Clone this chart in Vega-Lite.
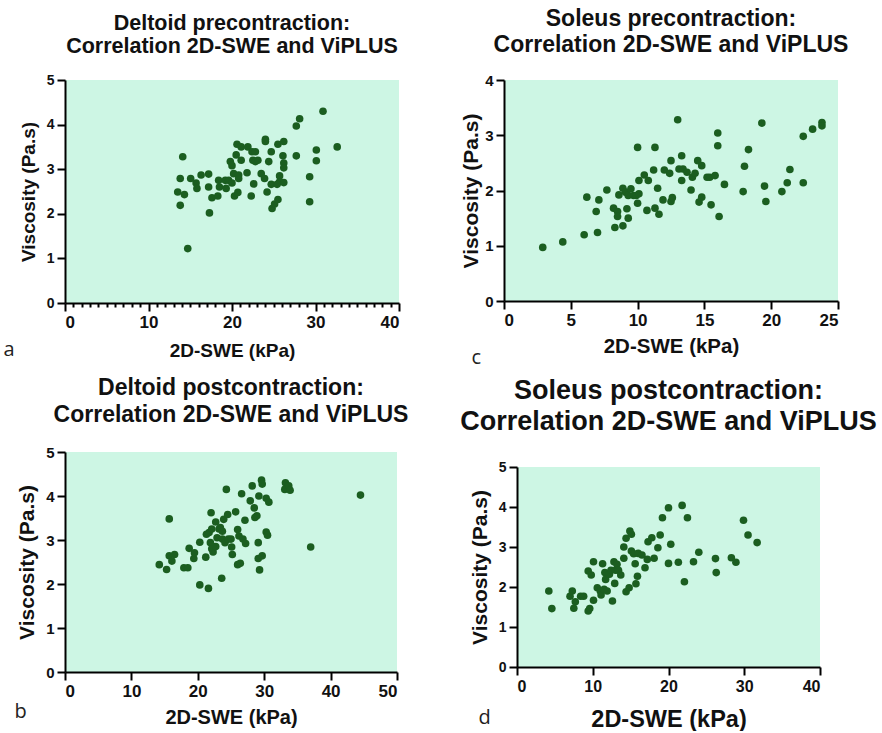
{
  "$schema": "https://vega.github.io/schema/vega-lite/v6.json",
  "padding": {"left": 3, "top": 8, "right": 0, "bottom": 0},
  "background": "white",
  "config": {
    "view": {"fill": "#CDF6E4", "stroke": null},
    "title": {"font": "Liberation Sans", "fontSize": 23, "fontWeight": "bold", "lineHeight": 26, "offset": 16, "anchor": "middle", "color": "#111"},
    "axis": {"grid": false, "labelFont": "Liberation Sans", "labelFontWeight": "bold", "labelColor": "#111", "titleFont": "Liberation Sans", "titleFontWeight": "bold", "titleColor": "#111", "labelPadding": 3, "domain": true, "domainColor": "black", "domainWidth": 2, "ticks": true, "tickColor": "black", "tickWidth": 2, "tickSize": 8, "labelOverlap": false, "format": "d"},
    "axisX": {"titlePadding": 8, "labelFontSize": 17},
    "axisY": {"titlePadding": 8, "labelFontSize": 14},
    "point": {"filled": true, "size": 58, "color": "#1B5E20", "opacity": 1},
    "text": {"font": "Open Sans", "fontSize": 20, "color": "#222"}
  },
  "datasets": {
    "a": [
      {"swe":14.1,"visc":3.28},{"swe":13.8,"visc":2.79},{"swe":13.5,"visc":2.49},{"swe":14.3,"visc":2.43},{"swe":13.8,"visc":2.19},{"swe":14.7,"visc":1.22},{"swe":15.05,"visc":2.79},{"swe":15.7,"visc":2.69},{"swe":15.8,"visc":2.57},{"swe":16.3,"visc":2.87},{"swe":17.2,"visc":2.89},{"swe":17.2,"visc":2.6},{"swe":17.3,"visc":2.02},{"swe":17.6,"visc":2.36},{"swe":18.3,"visc":2.4},{"swe":18.4,"visc":2.75},{"swe":18.5,"visc":2.6},{"swe":19.2,"visc":2.75},{"swe":19.3,"visc":2.57},{"swe":19.6,"visc":2.75},{"swe":19.8,"visc":3.17},{"swe":20.0,"visc":3.08},{"swe":20.0,"visc":2.69},{"swe":20.2,"visc":2.9},{"swe":20.3,"visc":2.4},{"swe":20.5,"visc":3.32},{"swe":20.7,"visc":2.48},{"swe":20.8,"visc":2.87},{"swe":20.8,"visc":2.79},{"swe":20.6,"visc":3.56},{"swe":21.1,"visc":3.5},{"swe":21.1,"visc":3.2},{"swe":21.8,"visc":2.92},{"swe":21.9,"visc":3.5},{"swe":22.3,"visc":2.4},{"swe":22.4,"visc":3.39},{"swe":22.5,"visc":3.2},{"swe":22.6,"visc":2.67},{"swe":22.8,"visc":3.39},{"swe":22.8,"visc":3.17},{"swe":23.1,"visc":3.2},{"swe":23.5,"visc":2.9},{"swe":23.9,"visc":2.79},{"swe":24.0,"visc":3.67},{"swe":24.0,"visc":3.62},{"swe":24.2,"visc":2.49},{"swe":24.4,"visc":3.17},{"swe":24.7,"visc":3.39},{"swe":24.7,"visc":2.66},{"swe":24.8,"visc":2.12},{"swe":25.1,"visc":2.22},{"swe":25.5,"visc":2.32},{"swe":25.7,"visc":2.85},{"swe":25.7,"visc":2.72},{"swe":25.5,"visc":3.56},{"swe":26.2,"visc":3.62},{"swe":26.1,"visc":3.3},{"swe":26.2,"visc":3.14},{"swe":26.2,"visc":3.03},{"swe":26.2,"visc":2.7},{"swe":25.4,"visc":2.66},{"swe":27.7,"visc":3.3},{"swe":27.7,"visc":3.97},{"swe":28.1,"visc":4.13},{"swe":29.3,"visc":2.83},{"swe":29.3,"visc":2.27},{"swe":30.1,"visc":3.43},{"swe":30.1,"visc":3.19},{"swe":30.9,"visc":4.3},{"swe":32.6,"visc":3.5}
    ],
    "c": [
      {"swe":2.9,"visc":0.97},{"swe":4.4,"visc":1.07},{"swe":6.0,"visc":1.2},{"swe":6.2,"visc":1.88},{"swe":6.9,"visc":1.62},{"swe":7.0,"visc":1.24},{"swe":7.1,"visc":1.83},{"swe":7.7,"visc":2.01},{"swe":8.2,"visc":1.68},{"swe":8.3,"visc":1.33},{"swe":8.5,"visc":1.62},{"swe":8.5,"visc":1.53},{"swe":8.6,"visc":1.92},{"swe":8.9,"visc":2.04},{"swe":8.9,"visc":1.36},{"swe":9.1,"visc":1.97},{"swe":9.2,"visc":1.67},{"swe":9.3,"visc":1.5},{"swe":9.3,"visc":1.91},{"swe":9.5,"visc":2.03},{"swe":9.7,"visc":1.91},{"swe":9.9,"visc":1.91},{"swe":10.0,"visc":2.78},{"swe":10.0,"visc":1.77},{"swe":10.1,"visc":2.18},{"swe":10.1,"visc":1.94},{"swe":10.5,"visc":2.28},{"swe":10.7,"visc":1.64},{"swe":10.8,"visc":2.18},{"swe":11.2,"visc":2.37},{"swe":11.3,"visc":2.78},{"swe":11.3,"visc":1.68},{"swe":11.5,"visc":2.04},{"swe":11.6,"visc":1.57},{"swe":11.9,"visc":1.83},{"swe":12.0,"visc":2.37},{"swe":12.4,"visc":2.31},{"swe":12.5,"visc":1.8},{"swe":12.5,"visc":2.54},{"swe":12.6,"visc":1.87},{"swe":13.0,"visc":3.28},{"swe":13.1,"visc":2.39},{"swe":13.3,"visc":2.18},{"swe":13.3,"visc":2.63},{"swe":13.4,"visc":2.39},{"swe":13.7,"visc":2.33},{"swe":14.0,"visc":2.01},{"swe":14.1,"visc":2.24},{"swe":14.3,"visc":2.31},{"swe":14.5,"visc":2.54},{"swe":14.6,"visc":1.79},{"swe":14.8,"visc":1.88},{"swe":14.8,"visc":2.45},{"swe":15.2,"visc":2.24},{"swe":15.4,"visc":2.24},{"swe":15.5,"visc":1.74},{"swe":15.8,"visc":2.27},{"swe":16.0,"visc":3.04},{"swe":16.0,"visc":2.81},{"swe":16.1,"visc":1.53},{"swe":16.5,"visc":2.11},{"swe":17.9,"visc":1.98},{"swe":18.0,"visc":2.44},{"swe":18.3,"visc":2.74},{"swe":19.3,"visc":3.22},{"swe":19.5,"visc":2.08},{"swe":19.6,"visc":1.8},{"swe":20.8,"visc":1.98},{"swe":21.2,"visc":2.14},{"swe":21.4,"visc":2.38},{"swe":22.4,"visc":2.98},{"swe":22.4,"visc":2.14},{"swe":23.1,"visc":3.11},{"swe":23.8,"visc":3.23},{"swe":23.8,"visc":3.17}
    ],
    "b": [
      {"swe":14.2,"visc":2.44},{"swe":15.3,"visc":2.33},{"swe":15.7,"visc":3.48},{"swe":15.7,"visc":2.64},{"swe":16.1,"visc":2.52},{"swe":16.5,"visc":2.67},{"swe":17.9,"visc":2.37},{"swe":18.5,"visc":2.37},{"swe":18.7,"visc":2.81},{"swe":19.4,"visc":2.58},{"swe":19.5,"visc":2.71},{"swe":20.3,"visc":2.95},{"swe":20.3,"visc":1.98},{"swe":21.2,"visc":2.61},{"swe":21.6,"visc":1.9},{"swe":21.3,"visc":3.13},{"swe":21.7,"visc":3.17},{"swe":22.0,"visc":3.62},{"swe":22.1,"visc":3.25},{"swe":21.9,"visc":2.94},{"swe":22.1,"visc":2.8},{"swe":22.3,"visc":2.73},{"swe":22.7,"visc":2.85},{"swe":22.7,"visc":3.41},{"swe":22.9,"visc":3.05},{"swe":23.2,"visc":3.25},{"swe":23.4,"visc":3.28},{"swe":23.7,"visc":3.2},{"swe":23.6,"visc":2.13},{"swe":23.7,"visc":3.02},{"swe":23.9,"visc":3.47},{"swe":24.1,"visc":2.94},{"swe":24.3,"visc":4.15},{"swe":24.5,"visc":3.58},{"swe":24.6,"visc":3.02},{"swe":25.0,"visc":3.02},{"swe":25.1,"visc":2.84},{"swe":25.2,"visc":2.67},{"swe":25.7,"visc":3.64},{"swe":26.0,"visc":3.24},{"swe":26.0,"visc":2.44},{"swe":26.2,"visc":3.09},{"swe":26.4,"visc":2.47},{"swe":26.6,"visc":4.05},{"swe":26.8,"visc":3.02},{"swe":27.1,"visc":3.45},{"swe":27.2,"visc":2.92},{"swe":27.9,"visc":3.89},{"swe":28.2,"visc":4.23},{"swe":28.5,"visc":3.73},{"swe":28.6,"visc":3.51},{"swe":28.9,"visc":3.55},{"swe":29.1,"visc":2.94},{"swe":29.2,"visc":4.0},{"swe":29.1,"visc":2.58},{"swe":29.3,"visc":2.32},{"swe":29.6,"visc":4.36},{"swe":29.7,"visc":4.27},{"swe":29.7,"visc":2.64},{"swe":30.3,"visc":3.95},{"swe":30.3,"visc":3.18},{"swe":30.5,"visc":3.11},{"swe":30.7,"visc":3.86},{"swe":33.2,"visc":4.3},{"swe":33.1,"visc":4.15},{"swe":33.7,"visc":4.23},{"swe":33.9,"visc":4.13},{"swe":37.0,"visc":2.84},{"swe":44.5,"visc":4.02}
    ],
    "d": [
      {"swe":4.2,"visc":1.9},{"swe":4.6,"visc":1.46},{"swe":7.0,"visc":1.77},{"swe":7.3,"visc":1.9},{"swe":7.5,"visc":1.47},{"swe":7.7,"visc":1.63},{"swe":8.4,"visc":1.77},{"swe":8.8,"visc":1.77},{"swe":9.4,"visc":2.4},{"swe":9.4,"visc":1.4},{"swe":9.6,"visc":1.46},{"swe":9.8,"visc":2.3},{"swe":10.1,"visc":2.63},{"swe":10.1,"visc":1.67},{"swe":10.6,"visc":1.98},{"swe":11.0,"visc":1.9},{"swe":11.1,"visc":1.8},{"swe":11.3,"visc":2.58},{"swe":11.5,"visc":1.94},{"swe":11.6,"visc":2.36},{"swe":11.7,"visc":2.19},{"swe":11.9,"visc":1.9},{"swe":12.2,"visc":2.32},{"swe":12.4,"visc":2.42},{"swe":12.6,"visc":1.65},{"swe":12.8,"visc":2.63},{"swe":12.9,"visc":2.09},{"swe":13.0,"visc":2.42},{"swe":13.2,"visc":2.57},{"swe":13.4,"visc":2.42},{"swe":13.7,"visc":2.3},{"swe":14.1,"visc":3.0},{"swe":14.1,"visc":2.72},{"swe":14.4,"visc":1.88},{"swe":14.4,"visc":3.22},{"swe":14.8,"visc":1.98},{"swe":14.9,"visc":3.4},{"swe":15.1,"visc":3.32},{"swe":15.1,"visc":2.9},{"swe":15.4,"visc":2.83},{"swe":15.6,"visc":2.58},{"swe":15.7,"visc":2.08},{"swe":15.9,"visc":2.27},{"swe":16.0,"visc":2.84},{"swe":16.5,"visc":2.8},{"swe":16.9,"visc":2.48},{"swe":17.2,"visc":2.69},{"swe":17.3,"visc":3.13},{"swe":17.8,"visc":3.23},{"swe":18.1,"visc":2.72},{"swe":18.6,"visc":2.98},{"swe":18.9,"visc":3.3},{"swe":19.2,"visc":3.73},{"swe":20.0,"visc":3.98},{"swe":20.0,"visc":2.59},{"swe":20.3,"visc":3.07},{"swe":21.3,"visc":2.62},{"swe":21.8,"visc":4.04},{"swe":22.1,"visc":2.13},{"swe":22.5,"visc":3.73},{"swe":23.3,"visc":2.63},{"swe":24.0,"visc":2.87},{"swe":26.2,"visc":2.71},{"swe":26.3,"visc":2.36},{"swe":28.3,"visc":2.73},{"swe":28.9,"visc":2.62},{"swe":29.9,"visc":3.67},{"swe":30.5,"visc":3.3},{"swe":31.7,"visc":3.11}
    ]
  },
  "columns": 2,
  "align": "none",
  "spacing": {"row": 9, "column": 51},
  "concat": [
    {
      "title": {"text": ["Deltoid precontraction:", "Correlation 2D-SWE and ViPLUS"], "fontSize": 21.5, "lineHeight": 23, "offset": 16},
      "width": 334, "height": 223,
      "resolve": {"axis": {"x": "independent", "y": "independent"}},
      "layer": [
        {
          "data": {"name": "a"},
          "mark": "point",
          "encoding": {
            "x": {"field": "swe", "type": "quantitative", "scale": {"domain": [0, 40], "nice": false},
                  "axis": {"orient": "bottom", "title": "2D-SWE (kPa)", "titleFontSize": 19, "titlePadding": 11, "labelOverlap": false,
                           "values": [0,1,2,3,4,5,6,7,8,9,10,11,12,13,14,15,16,17,18,19,20,21,22,23,24,25,26,27,28,29,30,31,32,33,34,35,36,37,38,39,40],
                           "labelExpr": "datum.value % 10 === 0 ? datum.label : ''",
                           "tickSize": {"condition": {"test": "datum.value % 10 === 0", "value": 8}, "value": 4}}},
            "y": {"field": "visc", "type": "quantitative", "scale": {"domain": [0, 5], "nice": false},
                  "axis": {"orient": "left", "title": "Viscosity (Pa.s)", "titleFontSize": 19, "values": [0,1,2,3,4,5], "labelOverlap": false}}
          }
        },
        {
          "data": {"values": [{"letter": "a"}]},
          "mark": {"type": "text", "align": "center", "baseline": "middle"},
          "encoding": {
            "x": {"datum": -6.7, "type": "quantitative", "axis": null},
            "y": {"datum": -1.05, "type": "quantitative", "axis": null},
            "text": {"field": "letter"}
          }
        }
      ]
    },
    {
      "title": {"text": ["Soleus precontraction:", "Correlation 2D-SWE and ViPLUS"], "lineHeight": 26, "offset": 16},
      "width": 334, "height": 221,
      "resolve": {"axis": {"x": "independent", "y": "independent"}},
      "layer": [
        {
          "data": {"name": "c"},
          "mark": "point",
          "encoding": {
            "x": {"field": "swe", "type": "quantitative", "scale": {"domain": [0, 25], "nice": false},
                  "axis": {"orient": "bottom", "title": "2D-SWE (kPa)", "titleFontSize": 20.5, "values": [0,5,10,15,20,25], "labelOverlap": false}},
            "y": {"field": "visc", "type": "quantitative", "scale": {"domain": [0, 4], "nice": false},
                  "axis": {"orient": "left", "title": "Viscosity (Pa.s)", "titleFontSize": 21, "titlePadding": 3, "labelFontSize": 15, "values": [0,1,2,3,4], "labelOverlap": false}}
          }
        },
        {
          "data": {"values": [{"letter": "c"}]},
          "mark": {"type": "text", "align": "center", "baseline": "middle"},
          "encoding": {
            "x": {"datum": -2.07, "type": "quantitative", "axis": null},
            "y": {"datum": -1.03, "type": "quantitative", "axis": null},
            "text": {"field": "letter"}
          }
        }
      ]
    },
    {
      "title": {"text": ["Deltoid postcontraction:", "Correlation 2D-SWE and ViPLUS"], "lineHeight": 27, "offset": 18},
      "width": 332, "height": 220,
      "resolve": {"axis": {"x": "independent", "y": "independent"}},
      "layer": [
        {
          "data": {"name": "b"},
          "mark": "point",
          "encoding": {
            "x": {"field": "swe", "type": "quantitative", "scale": {"domain": [0, 50], "nice": false},
                  "axis": {"orient": "bottom", "title": "2D-SWE (kPa)", "titleFontSize": 20, "values": [0,10,20,30,40,50], "labelOverlap": false}},
            "y": {"field": "visc", "type": "quantitative", "scale": {"domain": [0, 5], "nice": false},
                  "axis": {"orient": "left", "title": "Viscosity (Pa.s)", "titleFontSize": 21, "labelFontSize": 15, "values": [0,1,2,3,4,5], "labelOverlap": false}}
          }
        },
        {
          "data": {"values": [{"letter": "b"}]},
          "mark": {"type": "text", "align": "center", "baseline": "middle"},
          "encoding": {
            "x": {"datum": -6.7, "type": "quantitative", "axis": null},
            "y": {"datum": -0.92, "type": "quantitative", "axis": null},
            "text": {"field": "letter"}
          }
        }
      ]
    },
    {
      "title": {"text": ["Soleus postcontraction:", "Correlation 2D-SWE and ViPLUS"], "fontSize": 27, "lineHeight": 31, "offset": 24},
      "width": 303, "height": 200,
      "resolve": {"axis": {"x": "independent", "y": "independent"}},
      "layer": [
        {
          "data": {"name": "d"},
          "mark": "point",
          "encoding": {
            "x": {"field": "swe", "type": "quantitative", "scale": {"domain": [0, 40], "nice": false},
                  "axis": {"orient": "bottom", "title": "2D-SWE (kPa)", "titleFontSize": 23.5, "titlePadding": 13, "labelFontSize": 16, "values": [0,10,20,30,40], "labelOverlap": false}},
            "y": {"field": "visc", "type": "quantitative", "scale": {"domain": [0, 5], "nice": false},
                  "axis": {"orient": "left", "title": "Viscosity (Pa.s)", "titleFontSize": 21, "labelFontSize": 14, "values": [0,1,2,3,4,5], "labelOverlap": false}}
          }
        },
        {
          "data": {"values": [{"letter": "d"}]},
          "mark": {"type": "text", "align": "center", "baseline": "middle"},
          "encoding": {
            "x": {"datum": -4.27, "type": "quantitative", "axis": null},
            "y": {"datum": -1.27, "type": "quantitative", "axis": null},
            "text": {"field": "letter"}
          }
        }
      ]
    }
  ]
}
